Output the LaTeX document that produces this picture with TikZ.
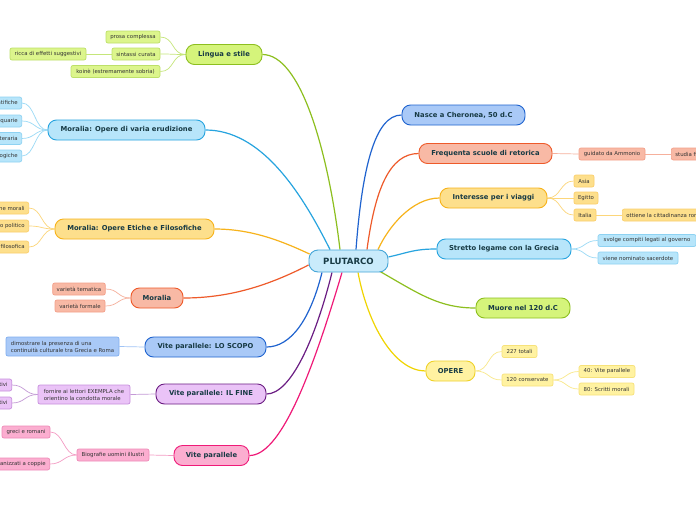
\documentclass[tikz,border=0pt]{standalone}
\usepackage{fontspec}
\setmainfont{DejaVu Sans}
\usetikzlibrary{calc}
\pgfdeclarelayer{bg}
\pgfsetlayers{bg,main}
\definecolor{txtM}{HTML}{173A44}
\definecolor{txtL}{HTML}{333333}
\definecolor{cenF}{HTML}{C9EBFB}\definecolor{cenD}{HTML}{45A6D8}
\definecolor{grnF}{HTML}{D5F47B}\definecolor{grnD}{HTML}{8DBF1F}\definecolor{grnLF}{HTML}{DCF58C}\definecolor{grnLD}{HTML}{BDE069}\definecolor{grnLn}{HTML}{C5E67A}
\definecolor{ltbF}{HTML}{B7E5FA}\definecolor{ltbD}{HTML}{27A4DF}\definecolor{ltbLD}{HTML}{8ED2F2}\definecolor{ltbLn}{HTML}{9ADAF6}
\definecolor{bluF}{HTML}{A9C9F7}\definecolor{bluD}{HTML}{1F63CF}\definecolor{bluLD}{HTML}{80AEF0}\definecolor{bluLn}{HTML}{A0C4F6}
\definecolor{salF}{HTML}{F8B9A5}\definecolor{salD}{HTML}{EE5A2A}\definecolor{salLD}{HTML}{F3A08A}\definecolor{salLn}{HTML}{F6B09C}
\definecolor{orgF}{HTML}{FDDF8C}\definecolor{orgD}{HTML}{F7B31C}\definecolor{orgLD}{HTML}{FBCF6C}\definecolor{orgLn}{HTML}{FCD67A}
\definecolor{yelF}{HTML}{FFF2A1}\definecolor{yelD}{HTML}{EFD22A}\definecolor{yelLD}{HTML}{F7E27A}\definecolor{yelLn}{HTML}{F9E88A}\definecolor{yelMn}{HTML}{F0D400}
\definecolor{purF}{HTML}{EAC3F7}\definecolor{purD}{HTML}{6B1D83}\definecolor{purLD}{HTML}{C78FDD}\definecolor{purLn}{HTML}{C49AD6}
\definecolor{pnkF}{HTML}{FBAED0}\definecolor{pnkD}{HTML}{EF1A78}\definecolor{pnkLD}{HTML}{EE8AB8}\definecolor{pnkLn}{HTML}{F49CC4}
\begin{document}
\begin{tikzpicture}[x=1pt,y=-1pt,
  mainnode/.style={rounded corners=8.5pt, minimum height=20pt, inner sep=0pt, line width=0.9pt, text=txtM, font=\fontsize{6.8}{8}\selectfont\bfseries},
  leaf/.style={rounded corners=2pt, minimum height=12pt, inner xsep=4pt, inner ysep=0pt, line width=0.7pt, text=txtL, font=\fontsize{5.4}{7}\selectfont},
  grnM/.style={fill=grnF, draw=grnD}, grnL/.style={fill=grnLF, draw=grnLD},
  ltbM/.style={fill=ltbF, draw=ltbD}, ltbL/.style={fill=ltbF, draw=ltbLD},
  bluM/.style={fill=bluF, draw=bluD}, bluL/.style={fill=bluF, draw=bluLD},
  salM/.style={fill=salF, draw=salD}, salL/.style={fill=salF, draw=salLD},
  orgM/.style={fill=orgF, draw=orgD}, orgL/.style={fill=orgF, draw=orgLD},
  yelM/.style={fill=yelF, draw=yelD}, yelL/.style={fill=yelF, draw=yelLD},
  purM/.style={fill=purF, draw=purD}, purL/.style={fill=purF, draw=purLD},
  pnkM/.style={fill=pnkF, draw=pnkD}, pnkL/.style={fill=pnkF, draw=pnkLD},
  mline/.style={line width=1.2pt},
  sline/.style={line width=0.7pt}
]
\useasboundingbox (0,0) rectangle (696,520);

% central
\node[mainnode, fill=cenF, draw=cenD, minimum width=79pt, minimum height=22pt, rounded corners=9pt, text=txtM, font=\fontsize{8.6}{10}\selectfont\bfseries] (P) at (348.5,261) {PLUTARCO};

% right main nodes
\node[mainnode, bluM, minimum width=123pt] (nasce) at (463.5,115) {Nasce a Cheronea, 50 d.C};
\node[mainnode, salM, minimum width=133pt] (freq) at (485.5,153.5) {Frequenta scuole di retorica};
\node[mainnode, orgM, minimum width=107pt] (inter) at (493.5,198) {Interesse per i viaggi};
\node[mainnode, ltbM, minimum width=134pt] (stretto) at (504,249) {Stretto legame con la Grecia};
\node[mainnode, grnM, minimum width=94pt] (muore) at (523,308) {Muore nel 120 d.C};
\node[mainnode, yelM, minimum width=49pt] (opere) at (450.5,371) {OPERE};

% right leaves
\node[leaf, salL, minimum width=66pt] (guid) at (612,154) {guidato da Ammonio};
\node[leaf, salL, anchor=west] (studia) at (671,154) {studia filosofia};
\node[leaf, orgL, minimum width=20pt] (asia) at (584,181) {Asia};
\node[leaf, orgL, minimum width=24pt] (egitto) at (586,198) {Egitto};
\node[leaf, orgL, minimum width=22pt] (italia) at (585,215) {Italia};
\node[leaf, orgL, anchor=west] (citt) at (622,215) {ottiene la cittadinanza romana};
\node[leaf, ltbL, minimum width=98pt] (svolge) at (647,240.5) {svolge compiti legati al governo};
\node[leaf, ltbL, minimum width=80pt] (sacer) at (638,258) {viene nominato sacerdote};
\node[leaf, yelL, minimum width=35pt] (tot) at (519.5,351.5) {227 totali};
\node[leaf, yelL, minimum width=51pt] (cons) at (527.5,380) {120 conservate};
\node[leaf, yelL, minimum width=56pt] (vite40) at (607,371.5) {40: Vite parallele};
\node[leaf, yelL, minimum width=55pt] (scr80) at (606.5,389) {80: Scritti morali};

% left main nodes
\node[mainnode, grnM, minimum width=76pt] (lingua) at (224,54.5) {Lingua e stile};
\node[mainnode, ltbM, minimum width=157pt] (varia) at (126.5,130) {Moralia: Opere di varia erudizione};
\node[mainnode, orgM, minimum width=159pt] (etiche) at (134.5,229) {Moralia: Opere Etiche e Filosofiche};
\node[mainnode, salM, minimum width=52pt] (moralia) at (157,298) {Moralia};
\node[mainnode, bluM, minimum width=121pt] (scopo) at (205.5,347) {Vite parallele: LO SCOPO};
\node[mainnode, purM, minimum width=110pt] (fine) at (211,394) {Vite parallele: IL FINE};
\node[mainnode, pnkM, minimum width=75pt] (vite) at (211.5,455.5) {Vite parallele};

% left leaves
\node[leaf, grnL, minimum width=54pt] (prosa) at (133,37) {prosa complessa};
\node[leaf, grnL, minimum width=48pt] (sint) at (136,54) {sintassi curata};
\node[leaf, grnL, minimum width=76pt] (ricca) at (48,54) {ricca di effetti suggestivi};
\node[leaf, grnL, minimum width=89pt] (koine) at (115.5,71.5) {koinè (estremamente sobria)};
\node[leaf, ltbL, anchor=east] (v1) at (22,103) {Opere scientifiche};
\node[leaf, ltbL, anchor=east] (v2) at (22,121) {Opere antiquarie};
\node[leaf, ltbL, anchor=east] (v3) at (22,138.5) {Critica letteraria};
\node[leaf, ltbL, anchor=east] (v4) at (22,156) {Opere teologiche};
\node[leaf, orgL, anchor=east] (e1) at (29,208) {trattazione morali};
\node[leaf, orgL, anchor=east] (e2) at (29,226) {pensiero politico};
\node[leaf, orgL, anchor=east] (e3) at (29,247) {polemica filosofica};
\node[leaf, salL, minimum width=52pt] (tem) at (79,289) {varietà tematica};
\node[leaf, salL, minimum width=50pt] (form) at (80,306) {varietà formale};
\node[leaf, bluL, minimum width=113pt, minimum height=19pt, align=left, font=\fontsize{5.4}{7}\selectfont] (dim) at (62.5,346.5) {dimostrare la presenza di una\\continuità culturale tra Grecia e Roma};
\node[leaf, purL, minimum width=92pt, minimum height=19pt, align=left, font=\fontsize{5.4}{7}\selectfont] (forn) at (84,394.5) {fornire ai lettori EXEMPLA che\\orientino la condotta morale};
\node[leaf, purL, anchor=east] (pos) at (12,385) {modelli positivi};
\node[leaf, purL, anchor=east] (neg) at (12,403) {modelli negativi};
\node[leaf, pnkL, minimum width=72pt] (bio) at (113,455) {Biografie uomini illustri};
\node[leaf, pnkL, minimum width=48pt] (greci) at (26,432) {greci e romani};
\node[leaf, pnkL, anchor=east] (coppie) at (50,464) {organizzati a coppie};

\begin{pgfonlayer}{bg}
\fill[white] (0,0) rectangle (696,520);
% main connectors
\draw[mline, draw=grnD] ($(P.north)+(-8.5,0)$) .. controls +(-12,-100) and +(38,0) .. (lingua.east);
\draw[mline, draw=ltbD] ($(P.north)+(-18.5,0)$) .. controls +(-30,-60) and +(55,0) .. (varia.east);
\draw[mline, draw=bluD] ($(P.north)+(7.5,0)$) .. controls +(6,-80) and +(-27,0) .. (nasce.west);
\draw[mline, draw=salD] ($(P.north)+(18.5,0)$) .. controls +(8,-60) and +(-29,0) .. (freq.west);
\draw[mline, draw=orgD] ($(P.north)+(29.5,0)$) .. controls +(10,-22) and +(-28,0) .. (inter.west);
\draw[mline, draw=ltbD] ($(P.east)+(0,-4)$) .. controls +(22,-5) and +(-22,0) .. (stretto.west);
\draw[mline, draw=grnD] ($(P.south)+(31.5,-1)$) .. controls +(40,23) and +(-36,0) .. (muore.west);
\draw[mline, draw=yelMn] ($(P.south)+(9.5,0)$) .. controls +(10,53) and +(-31,0) .. (opere.west);
\draw[mline, draw=orgD] ($(P.west)+(1,-7)$) .. controls +(-30,-14) and +(36,0) .. (etiche.east);
\draw[mline, draw=salD] ($(P.west)+(0,4)$) .. controls +(-39,20) and +(47,0) .. (moralia.east);
\draw[mline, draw=bluD] ($(P.south)+(-26.5,0)$) .. controls +(-12,48) and +(24,0) .. (scopo.east);
\draw[mline, draw=purD] ($(P.south)+(-16.5,0)$) .. controls +(-17,68) and +(24,0) .. (fine.east);
\draw[mline, draw=pnkD] ($(P.south)+(-6.5,0)$) .. controls +(-32,108) and +(30,0) .. (vite.east);

% sub connectors right
\draw[sline, draw=salLn] (freq.east) .. controls +(13,0) and +(-13,0) .. (guid.west);
\draw[sline, draw=salLn] (guid.east) -- (studia.west);
\foreach \n in {asia,egitto,italia}
  \draw[sline, draw=orgLn] (inter.east) .. controls +(14,0) and +(-14,0) .. (\n.west);
\draw[sline, draw=orgLn] (italia.east) -- (citt.west);
\foreach \n in {svolge,sacer}
  \draw[sline, draw=ltbLn] (stretto.east) .. controls +(14,0) and +(-14,0) .. (\n.west);
\foreach \n in {tot,cons}
  \draw[sline, draw=yelLn] (opere.east) .. controls +(14,0) and +(-14,0) .. (\n.west);
\foreach \n in {vite40,scr80}
  \draw[sline, draw=yelLn] (cons.east) .. controls +(13,0) and +(-13,0) .. (\n.west);

% sub connectors left
\foreach \n in {prosa,sint,koine}
  \draw[sline, draw=grnLn] (lingua.west) .. controls +(-14,0) and +(14,0) .. (\n.east);
\draw[sline, draw=grnLn] (sint.west) -- (ricca.east);
\foreach \n in {v1,v2,v3,v4}
  \draw[sline, draw=ltbLn] (varia.west) .. controls +(-13,0) and +(13,0) .. (\n.east);
\foreach \n in {e1,e2,e3}
  \draw[sline, draw=orgLn] (etiche.west) .. controls +(-13,0) and +(13,0) .. (\n.east);
\foreach \n in {tem,form}
  \draw[sline, draw=salLn] (moralia.west) .. controls +(-13,0) and +(13,0) .. (\n.east);
\draw[sline, draw=bluLn] (scopo.west) -- (dim.east);
\draw[sline, draw=purLn] (fine.west) -- (forn.east);
\foreach \n in {pos,neg}
  \draw[sline, draw=purLn] (forn.west) .. controls +(-13,0) and +(13,0) .. (\n.east);
\draw[sline, draw=pnkLn] (vite.west) -- (bio.east);
\foreach \n in {greci,coppie}
  \draw[sline, draw=pnkLn] (bio.west) .. controls +(-13,0) and +(13,0) .. (\n.east);
\end{pgfonlayer}
\end{tikzpicture}
\end{document}
